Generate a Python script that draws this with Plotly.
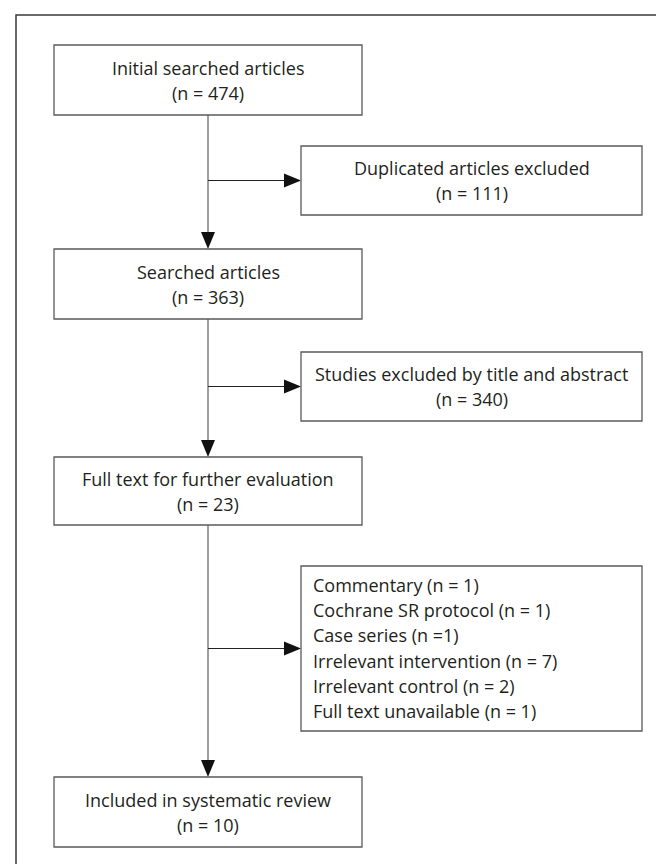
import plotly.graph_objects as go

# ---- data ----
main_labels = ["Initial searched articles", "Searched articles",
               "Full text for further evaluation", "Included in systematic review"]
main_counts = [474, 363, 23, 10]
excl_labels = ["Duplicated articles excluded", "Studies excluded by title and abstract"]
excl_counts = [111, 340]
reason_labels = ["Commentary", "Cochrane SR protocol", "Case series",
                 "Irrelevant intervention", "Irrelevant control", "Full text unavailable"]
reason_counts = [1, 1, 1, 7, 2, 1]
reason_eq = [" = ", " = ", " =", " = ", " = ", " = "]

# ---- layout (pixels) ----
W, H = 664, 864
FONT = "Open Sans"
FS = 18
TXT = "#231f20"
BOX = "#5a5a5a"
LINE = "#6a6a6a"
AX = 200
main_boxes = [(46, 354, 37, 107), (46, 354, 241, 311), (46, 354, 449, 517), (46, 354, 769, 839)]
excl_boxes = [(293, 634, 138, 207), (293, 634, 344, 413)]
list_box = (293, 634, 558, 723)

fig = go.Figure()
shapes = []
ann = []

def rect(b):
    shapes.append(dict(type="rect", xref="x", yref="y", x0=b[0], x1=b[1], y0=b[2], y1=b[3],
                       line=dict(color=BOX, width=1.3), fillcolor="white", layer="above"))

def two_lines(b, l1, l2):
    cx = (b[0] + b[1]) / 2
    cy = (b[2] + b[3]) / 2
    for t, dy in ((l1, -12.5), (l2, 12.5)):
        ann.append(dict(x=cx, y=cy + dy, xref="x", yref="y", text=t, showarrow=False,
                        xanchor="center", yanchor="middle",
                        font=dict(family=FONT, size=FS, color=TXT)))

def arrow_down(x, y_tip):
    shapes.append(dict(type="path", xref="x", yref="y",
                       path=f"M {x-7} {y_tip-17} L {x+7} {y_tip-17} L {x} {y_tip} Z",
                       fillcolor="#111111", line=dict(width=0), layer="above"))

def arrow_right(x_tip, y):
    shapes.append(dict(type="path", xref="x", yref="y",
                       path=f"M {x_tip-17} {y-7} L {x_tip-17} {y+7} L {x_tip} {y} Z",
                       fillcolor="#111111", line=dict(width=0), layer="above"))

# outer frame (open at right/bottom, cropped)
shapes.append(dict(type="path", xref="x", yref="y", path="M 8 900 L 8 7 L 700 7",
                   line=dict(color="#3a3a3a", width=1.5)))

# main vertical connectors
for i in range(len(main_boxes) - 1):
    top = main_boxes[i][3]
    tip = main_boxes[i + 1][2]
    shapes.append(dict(type="line", xref="x", yref="y", x0=AX, x1=AX, y0=top, y1=tip - 10,
                       line=dict(color=LINE, width=1.3)))
    arrow_down(AX, tip)

# side branches
side = excl_boxes + [list_box]
for b in side:
    cy = (b[2] + b[3]) / 2
    shapes.append(dict(type="line", xref="x", yref="y", x0=AX, x1=b[0] - 10, y0=cy, y1=cy,
                       line=dict(color="#222222", width=1.1)))
    arrow_right(b[0], cy)

for b, lab, n in zip(main_boxes, main_labels, main_counts):
    rect(b)
    two_lines(b, lab, f"(n = {n})")
for b, lab, n in zip(excl_boxes, excl_labels, excl_counts):
    rect(b)
    two_lines(b, lab, f"(n = {n})")

rect(list_box)
y0 = 577
for i, (lab, n, eq) in enumerate(zip(reason_labels, reason_counts, reason_eq)):
    ann.append(dict(x=list_box[0] + 10, y=y0 + i * 25.2, xref="x", yref="y",
                    text=f"{lab} (n{eq}{n})", showarrow=False,
                    xanchor="left", yanchor="middle",
                    font=dict(family=FONT, size=FS, color=TXT)))

fig.update_layout(
    width=W, height=H, margin=dict(l=0, r=0, t=0, b=0),
    paper_bgcolor="white", plot_bgcolor="white",
    xaxis=dict(range=[0, W], visible=False, fixedrange=True),
    yaxis=dict(range=[H, 0], visible=False, fixedrange=True),
    shapes=shapes, annotations=ann, showlegend=False,
)
fig.write_html("out.html")
